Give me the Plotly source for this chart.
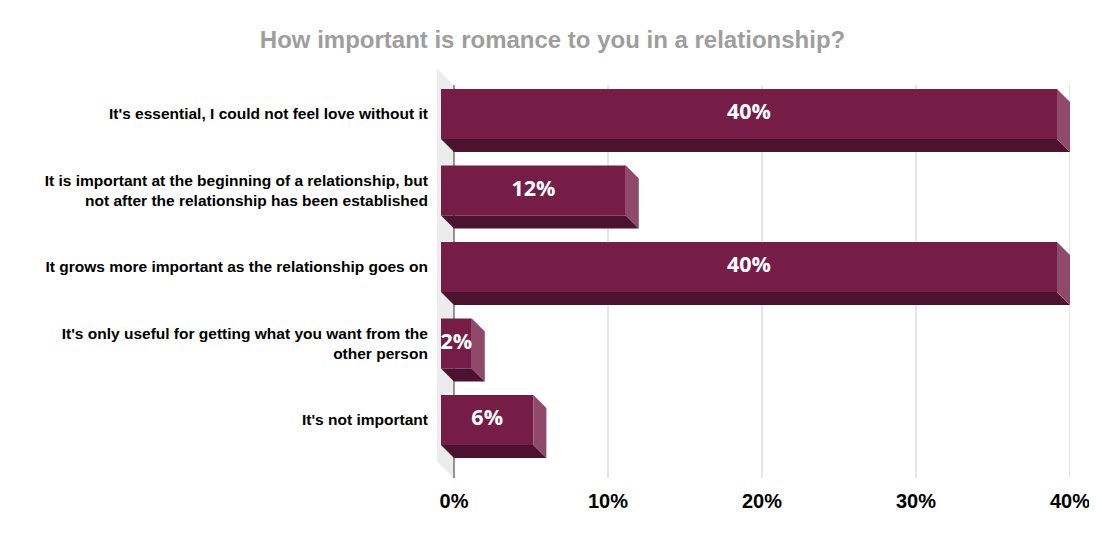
# 3D-style horizontal bar chart: how important is romance

import plotly.graph_objects as go

categories = [
    "It's essential, I could not feel love without it",
    "It is important at the beginning of a relationship, but<br>not after the relationship has been established",
    "It grows more important as the relationship goes on",
    "It's only useful for getting what you want from the<br>other person",
    "It's not important",
]
values = [40, 12, 40, 2, 6]
labels = ["40%", "12%", "40%", "2%", "6%"]
tick_vals = [0, 10, 20, 30, 40]
tick_text = ["0%", "10%", "20%", "30%", "40%"]

front = "#751c47"
bottom = "#4d1230"
side = "#8f4a6b"

# depth of the bars, in data units (about 13 px each way)
dx = 13 / 15.4
dy = 13 / 76.5
h = 25 / 76.5

pos = list(range(len(categories)))

fig = go.Figure()

# bottom and side faces
for i, v in zip(pos, values):
    fig.add_trace(go.Scatter(
        x=[-dx, v - dx, v, 0, -dx],
        y=[i + h, i + h, i + h + dy, i + h + dy, i + h],
        fill="toself", fillcolor=bottom, mode="lines", line=dict(width=0),
        hoverinfo="skip", showlegend=False,
    ))
    fig.add_trace(go.Scatter(
        x=[v - dx, v, v, v - dx, v - dx],
        y=[i - h, i - h + dy, i + h + dy, i + h, i - h],
        fill="toself", fillcolor=side, mode="lines", line=dict(width=0),
        hoverinfo="skip", showlegend=False,
    ))

# front faces
fig.add_trace(go.Bar(
    y=pos, x=values, base=[-dx] * len(values), orientation="h",
    width=2 * h, marker=dict(color=front, line=dict(width=0)),
    hoverinfo="skip", showlegend=False,
))

# value labels
fig.add_trace(go.Scatter(
    x=[v / 2 - dx for v in values], y=pos, mode="text", text=labels,
    textfont=dict(family="Open Sans", size=21.5, color="white", weight="bold"),
    hoverinfo="skip", showlegend=False, cliponaxis=False,
))

# back wall and grid lines
y_top, y_bot = -0.588, 4.758
g_top, g_bot = -0.379, 4.549
fig.add_shape(type="path", layer="below", line=dict(width=0), fillcolor="#ececec",
              path=f"M -1.104 {y_top} L 0 {g_top} L 0 {y_bot} L -1.104 {g_bot} Z")
for t in tick_vals:
    fig.add_shape(type="line", layer="below", x0=t, x1=t, y0=g_top, y1=y_bot,
                  line=dict(color="#333333" if t == 0 else "#cccccc", width=1))

# page body has an 8px margin, so the figure is 8px smaller and shifted
fig.update_layout(
    width=1089, height=527,
    paper_bgcolor="white", plot_bgcolor="white",
    margin=dict(l=429, r=27, t=61, b=57, autoexpand=False),
    title=dict(text="How important is romance to you in a relationship?",
               x=0.5, xanchor="center", y=0.94, yanchor="middle",
               font=dict(family="Liberation Sans", size=24, color="#9e9e9e", weight="bold")),
    xaxis=dict(range=[-1.104, 40], tickvals=tick_vals, ticktext=tick_text,
               showgrid=False, zeroline=False, showline=False,
               ticks="outside", ticklen=5, tickcolor="rgba(0,0,0,0)",
               tickfont=dict(family="Liberation Sans", size=20, color="black", weight="bold")),
    yaxis=dict(range=[y_bot, y_top], tickvals=pos, ticktext=categories,
               showgrid=False, zeroline=False, showline=False,
               ticks="outside", ticklen=5, tickcolor="rgba(0,0,0,0)",
               tickfont=dict(family="Liberation Sans", size=15.5, color="black", weight="bold")),
)

fig.write_html("out.html")
